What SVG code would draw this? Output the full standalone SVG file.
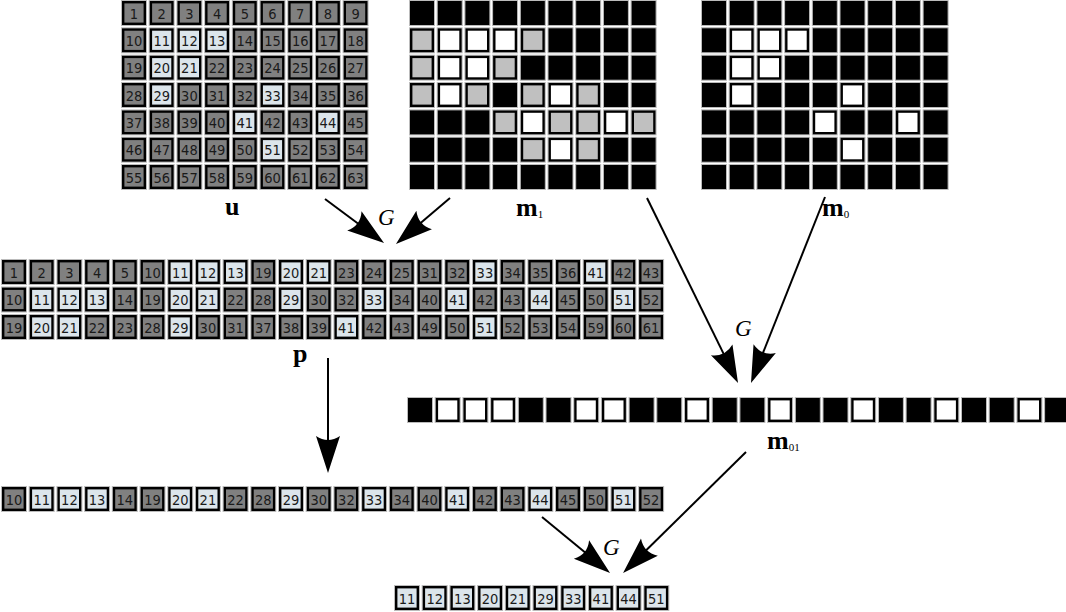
<svg xmlns="http://www.w3.org/2000/svg" xmlns:xlink="http://www.w3.org/1999/xlink" width="1066" height="612" viewBox="0 0 1066 612">
<style>
text.n{font-family:"DejaVu Sans Condensed","DejaVu Sans",sans-serif;font-stretch:condensed;font-size:14.5px;text-anchor:middle;fill:#1a1a1a}
.lb{font-family:"Liberation Serif",serif;font-weight:bold;font-size:26px;fill:#000}
.sb{font-size:11px;font-weight:normal}
.gi{font-family:"Liberation Serif",serif;font-style:italic;font-size:23px;fill:#000}
.ar{stroke:#000;stroke-width:2;fill:none;marker-end:url(#ah)}
</style>
<defs>
<marker id="ah" markerUnits="userSpaceOnUse" refX="0" refY="0" markerWidth="60" markerHeight="40" orient="auto" overflow="visible">
<path d="M20,0 L-17,-12 Q-9,0 -17,12 Z" fill="#000"/>
</marker>
<g id="g"><rect x="0.5" y="0.5" width="25" height="25" fill="none" stroke="#bbb"/><rect x="2.2" y="2.2" width="21.6" height="21.6" fill="#808080" stroke="#000" stroke-width="2.4"/></g>
<g id="l"><rect x="0.5" y="0.5" width="25" height="25" fill="none" stroke="#bbb"/><rect x="2.2" y="2.2" width="21.6" height="21.6" fill="#dce5eb" stroke="#000" stroke-width="2.4"/></g>
<g id="s"><rect x="0.5" y="0.5" width="25" height="25" fill="none" stroke="#bbb"/><rect x="2.2" y="2.2" width="21.6" height="21.6" fill="#c0c0c0" stroke="#000" stroke-width="2.4"/></g>
<g id="w"><rect x="0.5" y="0.5" width="25" height="25" fill="none" stroke="#bbb"/><rect x="2.2" y="2.2" width="21.6" height="21.6" fill="#fff" stroke="#000" stroke-width="2.4"/></g>
<g id="b"><rect x="0.5" y="0.5" width="25" height="25" fill="#000" stroke="#bbb"/></g>
</defs>

<g id="node-u">
<g transform="translate(0,0)"><use href="#g" x="121"/><text class="n" x="134" y="18.5">1</text><use href="#g" x="148.7"/><text class="n" x="161.7" y="18.5">2</text><use href="#g" x="176.4"/><text class="n" x="189.4" y="18.5">3</text><use href="#g" x="204.1"/><text class="n" x="217.1" y="18.5">4</text><use href="#g" x="231.8"/><text class="n" x="244.8" y="18.5">5</text><use href="#g" x="259.5"/><text class="n" x="272.5" y="18.5">6</text><use href="#g" x="287.2"/><text class="n" x="300.2" y="18.5">7</text><use href="#g" x="314.9"/><text class="n" x="327.9" y="18.5">8</text><use href="#g" x="342.6"/><text class="n" x="355.6" y="18.5">9</text></g>
<g transform="translate(0,27.3)"><use href="#g" x="121"/><text class="n" x="134" y="18.5">10</text><use href="#l" x="148.7"/><text class="n" x="161.7" y="18.5">11</text><use href="#l" x="176.4"/><text class="n" x="189.4" y="18.5">12</text><use href="#l" x="204.1"/><text class="n" x="217.1" y="18.5">13</text><use href="#g" x="231.8"/><text class="n" x="244.8" y="18.5">14</text><use href="#g" x="259.5"/><text class="n" x="272.5" y="18.5">15</text><use href="#g" x="287.2"/><text class="n" x="300.2" y="18.5">16</text><use href="#g" x="314.9"/><text class="n" x="327.9" y="18.5">17</text><use href="#g" x="342.6"/><text class="n" x="355.6" y="18.5">18</text></g>
<g transform="translate(0,54.7)"><use href="#g" x="121"/><text class="n" x="134" y="18.5">19</text><use href="#l" x="148.7"/><text class="n" x="161.7" y="18.5">20</text><use href="#l" x="176.4"/><text class="n" x="189.4" y="18.5">21</text><use href="#g" x="204.1"/><text class="n" x="217.1" y="18.5">22</text><use href="#g" x="231.8"/><text class="n" x="244.8" y="18.5">23</text><use href="#g" x="259.5"/><text class="n" x="272.5" y="18.5">24</text><use href="#g" x="287.2"/><text class="n" x="300.2" y="18.5">25</text><use href="#g" x="314.9"/><text class="n" x="327.9" y="18.5">26</text><use href="#g" x="342.6"/><text class="n" x="355.6" y="18.5">27</text></g>
<g transform="translate(0,82)"><use href="#g" x="121"/><text class="n" x="134" y="18.5">28</text><use href="#l" x="148.7"/><text class="n" x="161.7" y="18.5">29</text><use href="#g" x="176.4"/><text class="n" x="189.4" y="18.5">30</text><use href="#g" x="204.1"/><text class="n" x="217.1" y="18.5">31</text><use href="#g" x="231.8"/><text class="n" x="244.8" y="18.5">32</text><use href="#l" x="259.5"/><text class="n" x="272.5" y="18.5">33</text><use href="#g" x="287.2"/><text class="n" x="300.2" y="18.5">34</text><use href="#g" x="314.9"/><text class="n" x="327.9" y="18.5">35</text><use href="#g" x="342.6"/><text class="n" x="355.6" y="18.5">36</text></g>
<g transform="translate(0,109.4)"><use href="#g" x="121"/><text class="n" x="134" y="18.5">37</text><use href="#g" x="148.7"/><text class="n" x="161.7" y="18.5">38</text><use href="#g" x="176.4"/><text class="n" x="189.4" y="18.5">39</text><use href="#g" x="204.1"/><text class="n" x="217.1" y="18.5">40</text><use href="#l" x="231.8"/><text class="n" x="244.8" y="18.5">41</text><use href="#g" x="259.5"/><text class="n" x="272.5" y="18.5">42</text><use href="#g" x="287.2"/><text class="n" x="300.2" y="18.5">43</text><use href="#l" x="314.9"/><text class="n" x="327.9" y="18.5">44</text><use href="#g" x="342.6"/><text class="n" x="355.6" y="18.5">45</text></g>
<g transform="translate(0,136.7)"><use href="#g" x="121"/><text class="n" x="134" y="18.5">46</text><use href="#g" x="148.7"/><text class="n" x="161.7" y="18.5">47</text><use href="#g" x="176.4"/><text class="n" x="189.4" y="18.5">48</text><use href="#g" x="204.1"/><text class="n" x="217.1" y="18.5">49</text><use href="#g" x="231.8"/><text class="n" x="244.8" y="18.5">50</text><use href="#l" x="259.5"/><text class="n" x="272.5" y="18.5">51</text><use href="#g" x="287.2"/><text class="n" x="300.2" y="18.5">52</text><use href="#g" x="314.9"/><text class="n" x="327.9" y="18.5">53</text><use href="#g" x="342.6"/><text class="n" x="355.6" y="18.5">54</text></g>
<g transform="translate(0,164)"><use href="#g" x="121"/><text class="n" x="134" y="18.5">55</text><use href="#g" x="148.7"/><text class="n" x="161.7" y="18.5">56</text><use href="#g" x="176.4"/><text class="n" x="189.4" y="18.5">57</text><use href="#g" x="204.1"/><text class="n" x="217.1" y="18.5">58</text><use href="#g" x="231.8"/><text class="n" x="244.8" y="18.5">59</text><use href="#g" x="259.5"/><text class="n" x="272.5" y="18.5">60</text><use href="#g" x="287.2"/><text class="n" x="300.2" y="18.5">61</text><use href="#g" x="314.9"/><text class="n" x="327.9" y="18.5">62</text><use href="#g" x="342.6"/><text class="n" x="355.6" y="18.5">63</text></g>
<text class="lb" x="225" y="215">u</text>
</g>

<g id="node-m1">
<g transform="translate(0,0)"><use href="#b" x="409"/><use href="#b" x="436.7"/><use href="#b" x="464.4"/><use href="#b" x="492.1"/><use href="#b" x="519.8"/><use href="#b" x="547.5"/><use href="#b" x="575.2"/><use href="#b" x="602.9"/><use href="#b" x="630.6"/></g>
<g transform="translate(0,27.3)"><use href="#s" x="409"/><use href="#w" x="436.7"/><use href="#w" x="464.4"/><use href="#w" x="492.1"/><use href="#s" x="519.8"/><use href="#b" x="547.5"/><use href="#b" x="575.2"/><use href="#b" x="602.9"/><use href="#b" x="630.6"/></g>
<g transform="translate(0,54.7)"><use href="#s" x="409"/><use href="#w" x="436.7"/><use href="#w" x="464.4"/><use href="#s" x="492.1"/><use href="#b" x="519.8"/><use href="#b" x="547.5"/><use href="#b" x="575.2"/><use href="#b" x="602.9"/><use href="#b" x="630.6"/></g>
<g transform="translate(0,82)"><use href="#s" x="409"/><use href="#w" x="436.7"/><use href="#s" x="464.4"/><use href="#b" x="492.1"/><use href="#s" x="519.8"/><use href="#w" x="547.5"/><use href="#s" x="575.2"/><use href="#b" x="602.9"/><use href="#b" x="630.6"/></g>
<g transform="translate(0,109.4)"><use href="#b" x="409"/><use href="#b" x="436.7"/><use href="#b" x="464.4"/><use href="#s" x="492.1"/><use href="#w" x="519.8"/><use href="#s" x="547.5"/><use href="#s" x="575.2"/><use href="#w" x="602.9"/><use href="#s" x="630.6"/></g>
<g transform="translate(0,136.7)"><use href="#b" x="409"/><use href="#b" x="436.7"/><use href="#b" x="464.4"/><use href="#b" x="492.1"/><use href="#s" x="519.8"/><use href="#w" x="547.5"/><use href="#s" x="575.2"/><use href="#b" x="602.9"/><use href="#b" x="630.6"/></g>
<g transform="translate(0,164)"><use href="#b" x="409"/><use href="#b" x="436.7"/><use href="#b" x="464.4"/><use href="#b" x="492.1"/><use href="#b" x="519.8"/><use href="#b" x="547.5"/><use href="#b" x="575.2"/><use href="#b" x="602.9"/><use href="#b" x="630.6"/></g>
<text class="lb" x="516" y="216">m<tspan class="sb" dy="2">1</tspan></text>
</g>

<g id="node-m0">
<g transform="translate(0,0)"><use href="#b" x="701"/><use href="#b" x="728.7"/><use href="#b" x="756.4"/><use href="#b" x="784.1"/><use href="#b" x="811.8"/><use href="#b" x="839.5"/><use href="#b" x="867.2"/><use href="#b" x="894.9"/><use href="#b" x="922.6"/></g>
<g transform="translate(0,27.3)"><use href="#b" x="701"/><use href="#w" x="728.7"/><use href="#w" x="756.4"/><use href="#w" x="784.1"/><use href="#b" x="811.8"/><use href="#b" x="839.5"/><use href="#b" x="867.2"/><use href="#b" x="894.9"/><use href="#b" x="922.6"/></g>
<g transform="translate(0,54.7)"><use href="#b" x="701"/><use href="#w" x="728.7"/><use href="#w" x="756.4"/><use href="#b" x="784.1"/><use href="#b" x="811.8"/><use href="#b" x="839.5"/><use href="#b" x="867.2"/><use href="#b" x="894.9"/><use href="#b" x="922.6"/></g>
<g transform="translate(0,82)"><use href="#b" x="701"/><use href="#w" x="728.7"/><use href="#b" x="756.4"/><use href="#b" x="784.1"/><use href="#b" x="811.8"/><use href="#w" x="839.5"/><use href="#b" x="867.2"/><use href="#b" x="894.9"/><use href="#b" x="922.6"/></g>
<g transform="translate(0,109.4)"><use href="#b" x="701"/><use href="#b" x="728.7"/><use href="#b" x="756.4"/><use href="#b" x="784.1"/><use href="#w" x="811.8"/><use href="#b" x="839.5"/><use href="#b" x="867.2"/><use href="#w" x="894.9"/><use href="#b" x="922.6"/></g>
<g transform="translate(0,136.7)"><use href="#b" x="701"/><use href="#b" x="728.7"/><use href="#b" x="756.4"/><use href="#b" x="784.1"/><use href="#b" x="811.8"/><use href="#w" x="839.5"/><use href="#b" x="867.2"/><use href="#b" x="894.9"/><use href="#b" x="922.6"/></g>
<g transform="translate(0,164)"><use href="#b" x="701"/><use href="#b" x="728.7"/><use href="#b" x="756.4"/><use href="#b" x="784.1"/><use href="#b" x="811.8"/><use href="#b" x="839.5"/><use href="#b" x="867.2"/><use href="#b" x="894.9"/><use href="#b" x="922.6"/></g>
<text class="lb" x="822" y="216">m<tspan class="sb" dy="2">0</tspan></text>
</g>

<g id="node-p">
<g transform="translate(0,259)"><use href="#g" x="1"/><text class="n" x="14" y="18.5">1</text><use href="#g" x="28.7"/><text class="n" x="41.7" y="18.5">2</text><use href="#g" x="56.4"/><text class="n" x="69.4" y="18.5">3</text><use href="#g" x="84.1"/><text class="n" x="97.1" y="18.5">4</text><use href="#g" x="111.8"/><text class="n" x="124.8" y="18.5">5</text><use href="#g" x="139.5"/><text class="n" x="152.5" y="18.5">10</text><use href="#l" x="167.2"/><text class="n" x="180.2" y="18.5">11</text><use href="#l" x="194.9"/><text class="n" x="207.9" y="18.5">12</text><use href="#l" x="222.6"/><text class="n" x="235.6" y="18.5">13</text><use href="#g" x="250.3"/><text class="n" x="263.3" y="18.5">19</text><use href="#l" x="278"/><text class="n" x="291" y="18.5">20</text><use href="#l" x="305.7"/><text class="n" x="318.7" y="18.5">21</text><use href="#g" x="333.4"/><text class="n" x="346.4" y="18.5">23</text><use href="#g" x="361.1"/><text class="n" x="374.1" y="18.5">24</text><use href="#g" x="388.8"/><text class="n" x="401.8" y="18.5">25</text><use href="#g" x="416.5"/><text class="n" x="429.5" y="18.5">31</text><use href="#g" x="444.2"/><text class="n" x="457.2" y="18.5">32</text><use href="#l" x="471.9"/><text class="n" x="484.9" y="18.5">33</text><use href="#g" x="499.6"/><text class="n" x="512.6" y="18.5">34</text><use href="#g" x="527.3"/><text class="n" x="540.3" y="18.5">35</text><use href="#g" x="555"/><text class="n" x="568" y="18.5">36</text><use href="#l" x="582.7"/><text class="n" x="595.7" y="18.5">41</text><use href="#g" x="610.4"/><text class="n" x="623.4" y="18.5">42</text><use href="#g" x="638.1"/><text class="n" x="651.1" y="18.5">43</text></g>
<g transform="translate(0,286.5)"><use href="#g" x="1"/><text class="n" x="14" y="18.5">10</text><use href="#l" x="28.7"/><text class="n" x="41.7" y="18.5">11</text><use href="#l" x="56.4"/><text class="n" x="69.4" y="18.5">12</text><use href="#l" x="84.1"/><text class="n" x="97.1" y="18.5">13</text><use href="#g" x="111.8"/><text class="n" x="124.8" y="18.5">14</text><use href="#g" x="139.5"/><text class="n" x="152.5" y="18.5">19</text><use href="#l" x="167.2"/><text class="n" x="180.2" y="18.5">20</text><use href="#l" x="194.9"/><text class="n" x="207.9" y="18.5">21</text><use href="#g" x="222.6"/><text class="n" x="235.6" y="18.5">22</text><use href="#g" x="250.3"/><text class="n" x="263.3" y="18.5">28</text><use href="#l" x="278"/><text class="n" x="291" y="18.5">29</text><use href="#g" x="305.7"/><text class="n" x="318.7" y="18.5">30</text><use href="#g" x="333.4"/><text class="n" x="346.4" y="18.5">32</text><use href="#l" x="361.1"/><text class="n" x="374.1" y="18.5">33</text><use href="#g" x="388.8"/><text class="n" x="401.8" y="18.5">34</text><use href="#g" x="416.5"/><text class="n" x="429.5" y="18.5">40</text><use href="#l" x="444.2"/><text class="n" x="457.2" y="18.5">41</text><use href="#g" x="471.9"/><text class="n" x="484.9" y="18.5">42</text><use href="#g" x="499.6"/><text class="n" x="512.6" y="18.5">43</text><use href="#l" x="527.3"/><text class="n" x="540.3" y="18.5">44</text><use href="#g" x="555"/><text class="n" x="568" y="18.5">45</text><use href="#g" x="582.7"/><text class="n" x="595.7" y="18.5">50</text><use href="#l" x="610.4"/><text class="n" x="623.4" y="18.5">51</text><use href="#g" x="638.1"/><text class="n" x="651.1" y="18.5">52</text></g>
<g transform="translate(0,314)"><use href="#g" x="1"/><text class="n" x="14" y="18.5">19</text><use href="#l" x="28.7"/><text class="n" x="41.7" y="18.5">20</text><use href="#l" x="56.4"/><text class="n" x="69.4" y="18.5">21</text><use href="#g" x="84.1"/><text class="n" x="97.1" y="18.5">22</text><use href="#g" x="111.8"/><text class="n" x="124.8" y="18.5">23</text><use href="#g" x="139.5"/><text class="n" x="152.5" y="18.5">28</text><use href="#l" x="167.2"/><text class="n" x="180.2" y="18.5">29</text><use href="#g" x="194.9"/><text class="n" x="207.9" y="18.5">30</text><use href="#g" x="222.6"/><text class="n" x="235.6" y="18.5">31</text><use href="#g" x="250.3"/><text class="n" x="263.3" y="18.5">37</text><use href="#g" x="278"/><text class="n" x="291" y="18.5">38</text><use href="#g" x="305.7"/><text class="n" x="318.7" y="18.5">39</text><use href="#l" x="333.4"/><text class="n" x="346.4" y="18.5">41</text><use href="#g" x="361.1"/><text class="n" x="374.1" y="18.5">42</text><use href="#g" x="388.8"/><text class="n" x="401.8" y="18.5">43</text><use href="#g" x="416.5"/><text class="n" x="429.5" y="18.5">49</text><use href="#g" x="444.2"/><text class="n" x="457.2" y="18.5">50</text><use href="#l" x="471.9"/><text class="n" x="484.9" y="18.5">51</text><use href="#g" x="499.6"/><text class="n" x="512.6" y="18.5">52</text><use href="#g" x="527.3"/><text class="n" x="540.3" y="18.5">53</text><use href="#g" x="555"/><text class="n" x="568" y="18.5">54</text><use href="#g" x="582.7"/><text class="n" x="595.7" y="18.5">59</text><use href="#g" x="610.4"/><text class="n" x="623.4" y="18.5">60</text><use href="#g" x="638.1"/><text class="n" x="651.1" y="18.5">61</text></g>
<text class="lb" x="293" y="362">p</text>
</g>

<g id="node-m01">
<g transform="translate(0,397)"><use href="#b" x="407"/><use href="#w" x="434.7"/><use href="#w" x="462.4"/><use href="#w" x="490.1"/><use href="#b" x="517.8"/><use href="#b" x="545.5"/><use href="#w" x="573.2"/><use href="#w" x="600.9"/><use href="#b" x="628.6"/><use href="#b" x="656.3"/><use href="#w" x="684"/><use href="#b" x="711.7"/><use href="#b" x="739.4"/><use href="#w" x="767.1"/><use href="#b" x="794.8"/><use href="#b" x="822.5"/><use href="#w" x="850.2"/><use href="#b" x="877.9"/><use href="#b" x="905.6"/><use href="#w" x="933.3"/><use href="#b" x="961"/><use href="#b" x="988.7"/><use href="#w" x="1016.4"/><use href="#b" x="1044.1"/></g>
<text class="lb" x="767" y="449">m<tspan class="sb" dy="2">01</tspan></text>
</g>

<g id="node-q">
<g transform="translate(0,486)"><use href="#g" x="1"/><text class="n" x="14" y="18.5">10</text><use href="#l" x="28.7"/><text class="n" x="41.7" y="18.5">11</text><use href="#l" x="56.4"/><text class="n" x="69.4" y="18.5">12</text><use href="#l" x="84.1"/><text class="n" x="97.1" y="18.5">13</text><use href="#g" x="111.8"/><text class="n" x="124.8" y="18.5">14</text><use href="#g" x="139.5"/><text class="n" x="152.5" y="18.5">19</text><use href="#l" x="167.2"/><text class="n" x="180.2" y="18.5">20</text><use href="#l" x="194.9"/><text class="n" x="207.9" y="18.5">21</text><use href="#g" x="222.6"/><text class="n" x="235.6" y="18.5">22</text><use href="#g" x="250.3"/><text class="n" x="263.3" y="18.5">28</text><use href="#l" x="278"/><text class="n" x="291" y="18.5">29</text><use href="#g" x="305.7"/><text class="n" x="318.7" y="18.5">30</text><use href="#g" x="333.4"/><text class="n" x="346.4" y="18.5">32</text><use href="#l" x="361.1"/><text class="n" x="374.1" y="18.5">33</text><use href="#g" x="388.8"/><text class="n" x="401.8" y="18.5">34</text><use href="#g" x="416.5"/><text class="n" x="429.5" y="18.5">40</text><use href="#l" x="444.2"/><text class="n" x="457.2" y="18.5">41</text><use href="#g" x="471.9"/><text class="n" x="484.9" y="18.5">42</text><use href="#g" x="499.6"/><text class="n" x="512.6" y="18.5">43</text><use href="#l" x="527.3"/><text class="n" x="540.3" y="18.5">44</text><use href="#g" x="555"/><text class="n" x="568" y="18.5">45</text><use href="#g" x="582.7"/><text class="n" x="595.7" y="18.5">50</text><use href="#l" x="610.4"/><text class="n" x="623.4" y="18.5">51</text><use href="#g" x="638.1"/><text class="n" x="651.1" y="18.5">52</text></g>
</g>

<g id="node-r">
<g transform="translate(0,585)"><use href="#l" x="394"/><text class="n" x="407" y="18.5">11</text><use href="#l" x="421.7"/><text class="n" x="434.7" y="18.5">12</text><use href="#l" x="449.4"/><text class="n" x="462.4" y="18.5">13</text><use href="#l" x="477.1"/><text class="n" x="490.1" y="18.5">20</text><use href="#l" x="504.8"/><text class="n" x="517.8" y="18.5">21</text><use href="#l" x="532.5"/><text class="n" x="545.5" y="18.5">29</text><use href="#l" x="560.2"/><text class="n" x="573.2" y="18.5">33</text><use href="#l" x="587.9"/><text class="n" x="600.9" y="18.5">41</text><use href="#l" x="615.6"/><text class="n" x="628.6" y="18.5">44</text><use href="#l" x="643.3"/><text class="n" x="656.3" y="18.5">51</text></g>
</g>

<g id="connectors">
<path class="ar" d="M325,199 L368,231"/>
<path class="ar" d="M450,198 L411.2,231"/>
<path class="ar" d="M647,198 L729.2,365.1"/>
<path class="ar" d="M825,197 L758.4,364.4"/>
<path class="ar" d="M328,358 L328,453"/>
<path class="ar" d="M542,517 L594.6,560.3"/>
<path class="ar" d="M746,452 L637.3,559"/>
<text class="gi" x="378" y="225">G</text>
<text class="gi" x="735" y="336">G</text>
<text class="gi" x="603" y="555">G</text>
</g>
</svg>
